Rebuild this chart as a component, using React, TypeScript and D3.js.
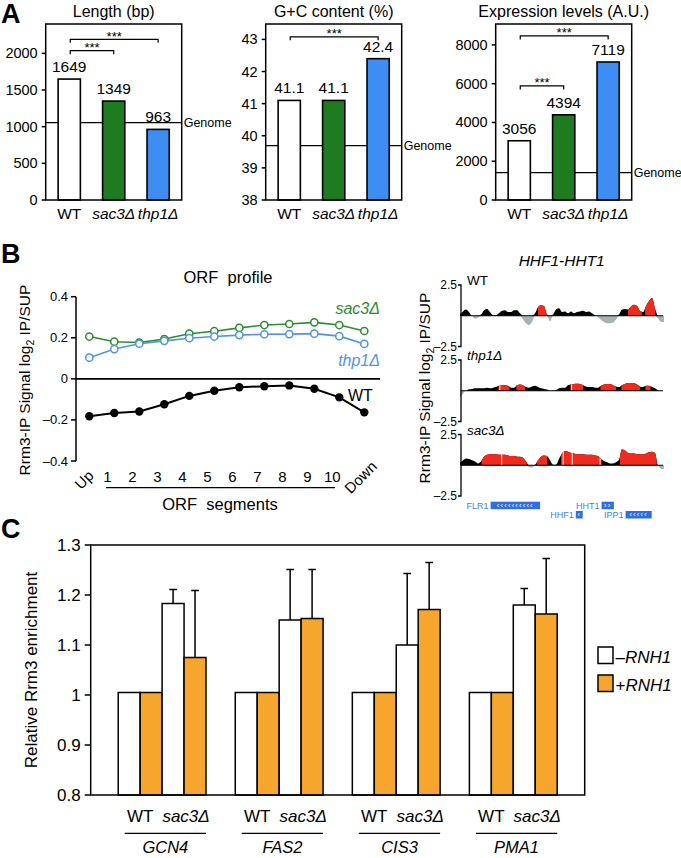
import React from "react";
import * as d3 from "d3";

const FONT = "'Liberation Sans', Arial, Helvetica, sans-serif";

// ---------- Panel A data ----------
const strainsA = ["WT", "sac3\u0394", "thp1\u0394"];
const lengthValues = [1649, 1349, 963];
const gcValues = [41.1, 41.1, 42.4];
const exprValues = [3056, 4394, 7119];
const genomeLength = 1054;
const genomeGC = 39.69;
const genomeExpr = 1410;
const lengthTicks = [0, 500, 1000, 1500, 2000];
const gcTicks = [38, 39, 40, 41, 42, 43];
const exprTicks = [0, 2000, 4000, 6000, 8000];
const lengthBrackets = [[0, 2, 2191], [0, 1, 2036]];
const gcBrackets = [[0, 2, 43.08]];
const exprBrackets = [[0, 2, 8465], [0, 1, 5884]];

// ---------- Panel B (ORF profile) data ----------
const orfSegments = ["Up", "1", "2", "3", "4", "5", "6", "7", "8", "9", "10", "Down"];
const wtProfile = [-0.182, -0.166, -0.159, -0.124, -0.083, -0.058, -0.041, -0.036, -0.032, -0.048, -0.09, -0.163];
const sac3Profile = [0.206, 0.181, 0.177, 0.194, 0.22, 0.232, 0.248, 0.262, 0.267, 0.275, 0.262, 0.233];
const thp1Profile = [0.103, 0.145, 0.171, 0.185, 0.198, 0.206, 0.213, 0.217, 0.218, 0.22, 0.208, 0.17];
const orfTicks = [0.4, 0.2, 0, -0.2, -0.4];

// ---------- Panel B (HHF1-HHT1 tracks) data ----------
const wtTrack = [0.1, 0.35, 0.5, 0.3, 0.0, -0.25, -0.15, 0.1, 0.45, 0.55, 0.3, 0.05, 0.05, 0.2, 0.4, 0.45, 0.3, 0.3, 0.45, 0.45, 0.2, -0.3, -0.6, -0.75, -0.5, 0.2, 0.7, 0.85, 0.8, 0.1, -0.45, 0.1, 0.5, 0.6, 0.3, 0.35, 0.2, 0.35, 0.2, 0.3, 0.35, 0.4, 0.3, 0.35, 0.2, 0.05, -0.1, -0.35, -0.5, -0.6, -0.6, -0.55, -0.3, 0.1, 0.5, 0.55, 0.5, 0.75, 0.9, 0.8, 0.4, 0.3, 0.8, 1.2, 1.45, 0.6, -0.2, -0.5, -0.5];
const thp1Track = [-0.55, -0.25, 0.0, 0.12, 0.15, 0.2, 0.2, 0.2, 0.2, 0.25, 0.2, 0.25, 0.3, 0.4, 0.45, 0.45, 0.4, 0.25, 0.25, 0.45, 0.5, 0.45, 0.3, 0.25, 0.35, 0.4, 0.3, 0.2, 0.15, 0.1, 0.0, -0.05, 0.05, 0.2, 0.25, 0.25, 0.45, 0.5, 0.55, 0.57, 0.55, 0.45, 0.35, 0.3, 0.3, 0.25, 0.25, 0.4, 0.5, 0.55, 0.55, 0.45, 0.35, 0.3, 0.45, 0.55, 0.62, 0.62, 0.6, 0.5, 0.35, 0.3, 0.4, 0.4, 0.3, 0.2, 0.05, 0.0, 0.0];
const sac3Track = [0.2, 0.4, 0.55, 0.5, 0.4, 0.3, 0.15, 0.3, 0.7, 0.85, 0.9, 0.9, 0.9, 0.85, 0.85, 0.85, 0.8, 0.75, 0.75, 0.7, 0.7, 0.6, 0.3, -0.15, -0.2, 0.05, 0.4, 0.7, 0.8, 0.75, 0.4, 0.05, 0.05, 0.5, 0.95, 1.15, 1.1, 1.0, 0.95, 0.9, 0.9, 0.9, 0.85, 0.85, 0.85, 0.8, 0.75, 0.5, 0.35, 0.25, 0.15, 0.15, 0.25, 0.45, 1.3, 1.2, 1.0, 0.95, 0.95, 0.9, 0.9, 0.9, 0.95, 1.05, 1.1, 1.0, 0.0, -0.3, -0.3];
const wtRed = [[26, 29.2], [56, 60.6], [61.7, 65]];
const thp1Red = [[12.8, 16.5], [18.8, 21.7], [36.8, 41], [46.8, 52], [53.8, 60], [61.8, 63.5]];
const sac3Red = [[7.2, 22.3], [25.6, 29], [33.7, 47.2], [53.3, 65.6]];
const thp1Breaks = [13.3, 37.2];
const sac3Breaks = [13.9, 34.4, 37.4, 46.7];
const trackTicks = [2.5, -2.5];
const annGenes = [
  { name: "FLR1", start: 10.2, end: 26.7, row: 0, arrows: "\u2039\u2039\u2039\u2039\u2039\u2039\u2039\u2039\u2039\u2039" },
  { name: "HHT1", start: 47.2, end: 51.3, row: 0, arrows: "\u203A\u203A" },
  { name: "HHF1", start: 38.6, end: 40.9, row: 1, arrows: "\u2039" },
  { name: "IPP1", start: 55.2, end: 63.9, row: 1, arrows: "\u2039\u2039\u2039\u2039\u2039" },
];

// ---------- Panel C data ----------
const genesC = ["GCN4", "FAS2", "CIS3", "PMA1"];
const wtMinusRNH1 = [1.005, 1.005, 1.005, 1.005];
const wtPlusRNH1 = [1.005, 1.005, 1.005, 1.005];
const sac3MinusRNH1 = [1.183, 1.15, 1.1, 1.18];
const sac3PlusRNH1 = [1.075, 1.153, 1.171, 1.162];
const sac3MinusErr = [0.028, 0.101, 0.143, 0.033];
const sac3PlusErr = [0.134, 0.098, 0.094, 0.111];
const cTicks = [1.3, 1.2, 1.1, 1, 0.9, 0.8];

const GREEN = "#1f7b1f";
const BLUE = "#3d8df2";
const LGREEN = "#2d8c2d";
const LBLUE = "#4f95e6";
const RED = "#ee2b1c";
const GRAY = "#a9b3b7";
const ORANGE = "#f6a52d";
const barFills = ["#ffffff", GREEN, BLUE];

function StrainLabel({ x, y, name, size }: any) {
  return (
    <text x={x} y={y} fontSize={size} textAnchor="middle" fontStyle={name === "WT" ? "normal" : "italic"}>
      {name}
    </text>
  );
}

function BarPanelA({ left, title, values, domain, ticks, genome, brackets, decimals }: any) {
  const top = 24, bottom = 200, right = left + 136;
  const x = d3.scaleBand().domain(strainsA).range([left, right]).paddingInner(0.5).paddingOuter(0.28);
  const y = d3.scaleLinear().domain(domain).range([bottom, top]);
  const bw = x.bandwidth();
  const cx = (i: number) => (x(strainsA[i]) as number) + bw / 2;
  return (
    <g>
      <text x={(left + right) / 2} y={17} fontSize={16} textAnchor="middle">{title}</text>
      <line x1={left} x2={right} y1={y(genome)} y2={y(genome)} stroke="#000" strokeWidth={1.2} />
      {values.map((v: number, i: number) => (
        <rect key={i} x={x(strainsA[i])} y={y(v)} width={bw} height={bottom - y(v)} fill={barFills[i]} stroke="#000" strokeWidth={1.6} />
      ))}
      {values.map((v: number, i: number) => (
        <text key={"v" + i} x={cx(i)} y={y(v) - 7} fontSize={15.5} textAnchor="middle">{v.toFixed(decimals)}</text>
      ))}
      <text x={right + 2} y={y(genome) + 4.5} fontSize={12.5}>Genome</text>
      <rect x={left} y={top} width={136} height={bottom - top} fill="none" stroke="#000" strokeWidth={1.5} />
      {ticks.map((t: number) => (
        <g key={t}>
          <line x1={left - 4} x2={left} y1={y(t)} y2={y(t)} stroke="#000" strokeWidth={1.5} />
          <text x={left - 8} y={y(t) + 5} fontSize={14.5} textAnchor="end">{t}</text>
        </g>
      ))}
      {strainsA.map((s, i) => (
        <StrainLabel key={s} x={cx(i)} y={219} name={s} size={15.5} />
      ))}
      {brackets.map((b: number[], k: number) => {
        const yb = y(b[2]);
        const x1 = cx(b[0]) + 1, x2 = cx(b[1]);
        return (
          <g key={"b" + k}>
            <path d={`M${x1},${yb + 3.5}V${yb}H${x2}V${yb + 3.5}`} fill="none" stroke="#000" strokeWidth={1.2} />
            <text x={(x1 + x2) / 2} y={yb + 1.5} fontSize={13} textAnchor="middle">***</text>
          </g>
        );
      })}
    </g>
  );
}

function OrfProfile() {
  const x = d3.scalePoint().domain(orfSegments).range([89.3, 364.3]);
  const y = d3.scaleLinear().domain([-0.4, 0.4]).range([461, 296.7]);
  const line = d3.line<number>().x((_, i) => x(orfSegments[i]) as number).y((d) => y(d));
  const fmt = (t: number) => (t < 0 ? "\u2013" + Math.abs(t) : String(t));
  return (
    <g>
      <text x={228} y={283} fontSize={16.5} textAnchor="middle" style={{ whiteSpace: "pre" }}>{"ORF  profile"}</text>
      <line x1={76} x2={76} y1={y(0.4)} y2={y(-0.4)} stroke="#000" strokeWidth={1.5} />
      {orfTicks.map((t) => (
        <g key={t}>
          <line x1={71} x2={76} y1={y(t)} y2={y(t)} stroke="#000" strokeWidth={1.5} />
          <text x={68} y={y(t) + 4.5} fontSize={13} textAnchor="end">{fmt(t)}</text>
        </g>
      ))}
      <line x1={76} x2={380} y1={y(0)} y2={y(0)} stroke="#000" strokeWidth={1.6} />
      <path d={line(sac3Profile) as string} fill="none" stroke={LGREEN} strokeWidth={1.6} />
      <path d={line(thp1Profile) as string} fill="none" stroke={LBLUE} strokeWidth={1.6} />
      <path d={line(wtProfile) as string} fill="none" stroke="#000" strokeWidth={2} />
      {sac3Profile.map((d, i) => (
        <circle key={"s" + i} cx={x(orfSegments[i])} cy={y(d)} r={3.6} fill="#fff" stroke={LGREEN} strokeWidth={1.5} />
      ))}
      {thp1Profile.map((d, i) => (
        <circle key={"t" + i} cx={x(orfSegments[i])} cy={y(d)} r={3.6} fill="#fff" stroke={LBLUE} strokeWidth={1.5} />
      ))}
      {wtProfile.map((d, i) => (
        <circle key={"w" + i} cx={x(orfSegments[i])} cy={y(d)} r={4.2} fill="#000" />
      ))}
      <text x={380} y={314} fontSize={16} textAnchor="end" fontStyle="italic" fill={LGREEN}>sac3{"\u0394"}</text>
      <text x={380} y={366} fontSize={16} textAnchor="end" fontStyle="italic" fill={LBLUE}>thp1{"\u0394"}</text>
      <text x={348} y={400.5} fontSize={16} fill="#000">WT</text>
      {orfSegments.map((s, i) => {
        const px = x(s) as number;
        if (s === "Up") return <text key={s} x={px} y={482} fontSize={15} textAnchor="middle" transform={`rotate(-45 ${px} 482)`} dx={-2}>{s}</text>;
        if (s === "Down") return <text key={s} x={px} y={481} fontSize={15} textAnchor="middle" transform={`rotate(-45 ${px} 481)`}>{s}</text>;
        return <text key={s} x={px - 7} y={482} fontSize={15} textAnchor="middle">{s}</text>;
      })}
      <line x1={106} x2={335} y1={487.7} y2={487.7} stroke="#000" strokeWidth={1.2} />
      <text x={220} y={510} fontSize={16.5} textAnchor="middle" style={{ whiteSpace: "pre" }}>{"ORF  segments"}</text>
      <text transform="translate(30,380) rotate(-90)" fontSize={15.5} textAnchor="middle">
        Rrm3-IP Signal log<tspan fontSize={10.5} dy={4}>2</tspan><tspan dy={-4}> IP/SUP</tspan>
      </text>
    </g>
  );
}

const tx = d3.scaleLinear().domain([0, 68]).range([460, 664]);

function Track({ top, values, red, breaks, label, id }: any) {
  const h = 61.5;
  const ty = d3.scaleLinear().domain([-2.5, 2.5]).range([top + h, top]);
  const pos = d3.area<number>().x((_, i) => tx(i)).y0(ty(0)).y1((d) => ty(Math.max(0, d))).curve(d3.curveMonotoneX)(values) as string;
  const neg = d3.area<number>().x((_, i) => tx(i)).y0(ty(0)).y1((d) => ty(Math.min(0, d))).curve(d3.curveMonotoneX)(values) as string;
  return (
    <g>
      <defs>
        <clipPath id={`red-${id}`}>
          {red.map((r: number[], k: number) => (
            <rect key={k} x={tx(r[0])} y={top - 5} width={tx(r[1]) - tx(r[0])} height={h + 10} />
          ))}
        </clipPath>
        <clipPath id={`pos-${id}`}>
          <path d={pos} />
        </clipPath>
      </defs>
      <path d={neg} fill={GRAY} />
      <path d={pos} fill="#000" />
      <path d={pos} fill={RED} clipPath={`url(#red-${id})`} />
      <g clipPath={`url(#pos-${id})`}>
        {breaks.map((b: number, k: number) => (
          <line key={k} x1={tx(b)} x2={tx(b)} y1={top} y2={ty(0)} stroke="#fff" strokeWidth={0.9} />
        ))}
      </g>
      <line x1={461} x2={663} y1={ty(0)} y2={ty(0)} stroke="#000" strokeWidth={1} />
      <path d={`M458,${ty(2.5)}H461V${ty(-2.5)}H458`} fill="none" stroke="#000" strokeWidth={1.3} />
      {trackTicks.map((t) => (
        <text key={t} x={457} y={ty(t) + 4} fontSize={12} textAnchor="end">{t < 0 ? "\u2013" + Math.abs(t) : t}</text>
      ))}
      <text x={467} y={top} fontSize={13.5} fontStyle={label === "WT" ? "normal" : "italic"}>{label}</text>
    </g>
  );
}

function TrackPanel() {
  const rowY = [501.7, 511];
  return (
    <g>
      <text x={561.7} y={266} fontSize={15.5} fontStyle="italic" textAnchor="middle">HHF1-HHT1</text>
      <Track top={285} values={wtTrack} red={wtRed} breaks={[]} label="WT" id="wt" />
      <Track top={360} values={thp1Track} red={thp1Red} breaks={thp1Breaks} label={"thp1\u0394"} id="thp1" />
      <Track top={434.5} values={sac3Track} red={sac3Red} breaks={sac3Breaks} label={"sac3\u0394"} id="sac3" />
      <text transform="translate(430,388) rotate(-90)" fontSize={15.5} textAnchor="middle">
        Rrm3-IP Signal log<tspan fontSize={10.5} dy={4}>2</tspan><tspan dy={-4}> IP/SUP</tspan>
      </text>
      {annGenes.map((g) => {
        const x0 = tx(g.start), x1 = tx(g.end), y0 = rowY[g.row];
        return (
          <g key={g.name}>
            <rect x={x0} y={y0} width={x1 - x0} height={7.5} fill="#2f6fe3" />
            <text x={(x0 + x1) / 2} y={y0 + 6.3} fontSize={7.5} fill="#fff" textAnchor="middle" letterSpacing={1.2}>{g.arrows}</text>
            <text x={x0 - 2} y={y0 + 7} fontSize={9} fill="#3f7fe6" textAnchor="end">{g.name}</text>
          </g>
        );
      })}
    </g>
  );
}

function PanelC() {
  const left = 90.7, right = 584.7, top = 545, bottom = 795;
  const x = d3.scaleBand().domain(genesC).range([left, right]).paddingInner(0.25).paddingOuter(0.235);
  const inner = d3.scaleBand().domain(["a", "b", "c", "d"]).range([0, x.bandwidth()]);
  const y = d3.scaleLinear().domain([0.8, 1.3]).range([bottom, top]);
  const bw = inner.bandwidth();
  const series = [
    { key: "a", vals: wtMinusRNH1, fill: "#fff", err: null as number[] | null },
    { key: "b", vals: wtPlusRNH1, fill: ORANGE, err: null as number[] | null },
    { key: "c", vals: sac3MinusRNH1, fill: "#fff", err: sac3MinusErr },
    { key: "d", vals: sac3PlusRNH1, fill: ORANGE, err: sac3PlusErr },
  ];
  return (
    <g>
      {series.map((s) =>
        genesC.map((g, gi) => {
          const bx = (x(g) as number) + (inner(s.key) as number);
          const v = s.vals[gi];
          return (
            <g key={s.key + g}>
              {s.err && (
                <g>
                  <line x1={bx + bw / 2} x2={bx + bw / 2} y1={y(v)} y2={y(v + s.err[gi])} stroke="#000" strokeWidth={1.5} />
                  <line x1={bx + bw / 2 - 3.8} x2={bx + bw / 2 + 3.8} y1={y(v + s.err[gi])} y2={y(v + s.err[gi])} stroke="#000" strokeWidth={1.5} />
                </g>
              )}
              <rect x={bx} y={y(v)} width={bw} height={bottom - y(v)} fill={s.fill} stroke="#000" strokeWidth={1.5} />
            </g>
          );
        })
      )}
      <rect x={left} y={top} width={right - left} height={bottom - top} fill="none" stroke="#000" strokeWidth={1.5} />
      {cTicks.map((t) => (
        <g key={t}>
          <line x1={left - 6} x2={left} y1={y(t)} y2={y(t)} stroke="#000" strokeWidth={1.5} />
          <text x={left - 10} y={y(t) + 6} fontSize={17} textAnchor="end">{t}</text>
        </g>
      ))}
      <text transform="translate(37,670) rotate(-90)" fontSize={17} textAnchor="middle">Relative Rrm3 enrichment</text>
      {genesC.map((g) => {
        const gx = x(g) as number;
        const wtx = gx + bw;
        const sx = gx + 3 * bw;
        return (
          <g key={g}>
            <text x={wtx} y={822} fontSize={17} textAnchor="middle">WT</text>
            <text x={sx + 2} y={822} fontSize={17} textAnchor="middle" fontStyle="italic">sac3{"\u0394"}</text>
            <line x1={gx + 6.5} x2={gx + 4 * bw} y1={833.3} y2={833.3} stroke="#000" strokeWidth={1.2} />
            <text x={(gx + 6.5 + gx + 4 * bw) / 2} y={853} fontSize={16.5} textAnchor="middle" fontStyle="italic">{g}</text>
          </g>
        );
      })}
      <rect x={598} y={647} width={15} height={16.5} fill="#fff" stroke="#000" strokeWidth={1.5} />
      <rect x={598} y={675} width={15} height={16.5} fill={ORANGE} stroke="#000" strokeWidth={1.5} />
      <text x={615.5} y={662.5} fontSize={17}>{"\u2013"}<tspan fontStyle="italic">RNH1</tspan></text>
      <text x={615.5} y={690.5} fontSize={17}>+<tspan fontStyle="italic">RNH1</tspan></text>
    </g>
  );
}

export default function App() {
  return (
    <svg width={681} height={858} style={{ position: "absolute", left: 0, top: 0, background: "#fff" }} fontFamily={FONT}>
      <rect width={681} height={858} fill="#fff" />
      <text x={1} y={23} fontSize={27} fontWeight="bold">A</text>
      <text x={1} y={263} fontSize={27} fontWeight="bold">B</text>
      <text x={1} y={538} fontSize={27} fontWeight="bold">C</text>
      <BarPanelA left={45.7} title="Length (bp)" values={lengthValues} domain={[0, 2400]} ticks={lengthTicks} genome={genomeLength} brackets={lengthBrackets} decimals={0} />
      <BarPanelA left={265.7} title="G+C content (%)" values={gcValues} domain={[38, 43.48]} ticks={gcTicks} genome={genomeGC} brackets={gcBrackets} decimals={1} />
      <BarPanelA left={495.7} title="Expression levels (A.U.)" values={exprValues} domain={[0, 9080]} ticks={exprTicks} genome={genomeExpr} brackets={exprBrackets} decimals={0} />
      <OrfProfile />
      <TrackPanel />
      <PanelC />
    </svg>
  );
}
